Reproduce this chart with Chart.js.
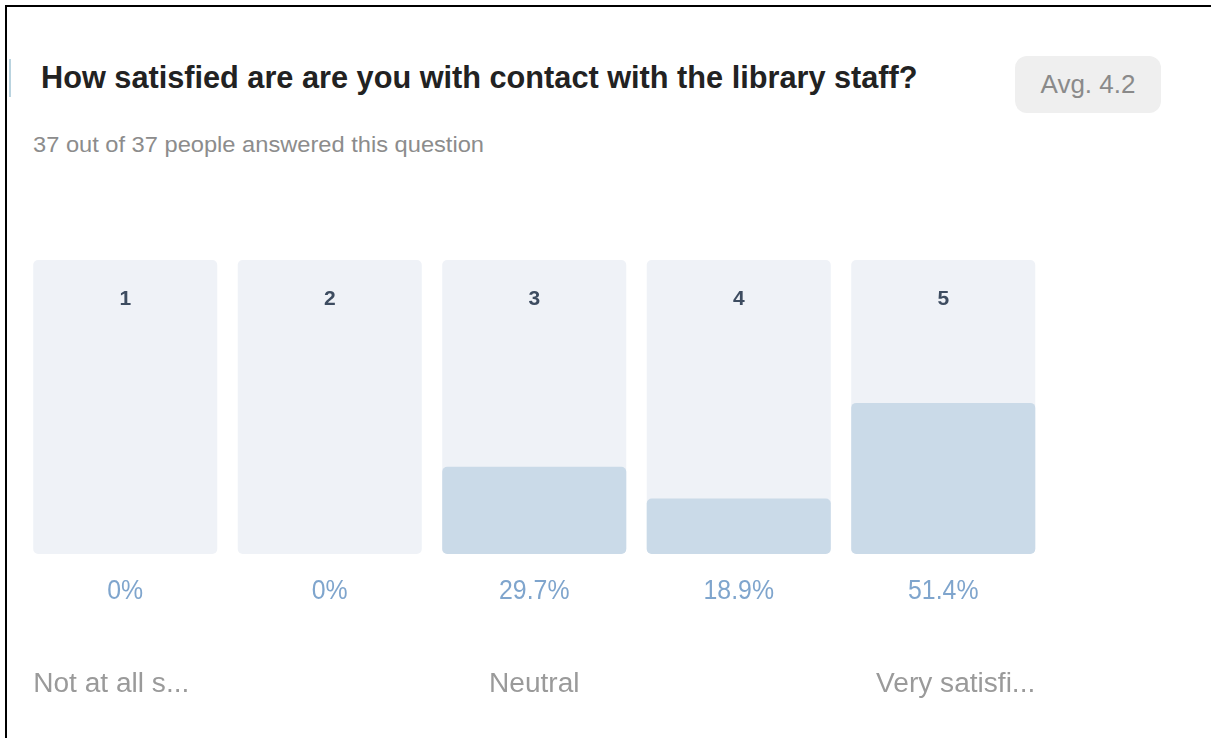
<!DOCTYPE html>
<html>
<head>
<meta charset="utf-8">
<script src="https://cdn.jsdelivr.net/npm/chart.js@4/dist/chart.umd.min.js"></script>
<style>
html,body{margin:0;padding:0;background:#fff;width:1211px;height:738px;overflow:hidden;font-family:"Liberation Sans",Arial,sans-serif;}
#frame{position:absolute;left:5px;top:5px;width:1300px;height:900px;border-left:2px solid #000;border-top:2px solid #000;}
#mark{position:absolute;left:9px;top:59px;width:2px;height:38px;background:#b9d3df;}
#title{position:absolute;left:41px;top:60px;font-weight:bold;font-size:31px;color:#222;white-space:nowrap;transform-origin:left top;transform:scaleX(0.99);}
#sub{position:absolute;left:33px;top:132px;font-size:22px;color:#8c8c8c;white-space:nowrap;transform-origin:left top;transform:scaleX(1.075);}
#badge{position:absolute;left:1015px;top:56px;width:146px;height:57px;background:#efefef;border-radius:12px;color:#8a8a8a;font-size:26px;line-height:57px;text-align:center;}
#c{position:absolute;left:0;top:0;}
</style>
</head>
<body>
<div id="frame"></div>
<div id="mark"></div>
<div id="title">How satisfied are are you with contact with the library staff?</div>
<div id="sub">37 out of 37 people answered this question</div>
<div id="badge">Avg. 4.2</div>
<canvas id="c" width="1211" height="738"></canvas>
<script>
const categories = ['1', '2', '3', '4', '5'];
const percentValues = [0, 0, 29.7, 18.9, 51.4];
const percentLabels = ['0%', '0%', '29.7%', '18.9%', '51.4%'];
const scaleLabels = ['Not at all s...', '', 'Neutral', '', 'Very satisfi...'];
const scaleMax = 100;
const trackValues = categories.map(() => scaleMax);

const textPlugin = {
  id: 'textPlugin',
  afterDatasetsDraw(chart) {
    const ctx = chart.ctx;
    const meta = chart.getDatasetMeta(1);
    const area = chart.chartArea;
    ctx.save();
    meta.data.forEach((bar, i) => {
      const x = bar.x;
      const half = bar.width / 2;
      ctx.fillStyle = '#3d4c60';
      ctx.font = 'bold 21px "Liberation Sans", Arial, sans-serif';
      ctx.textAlign = 'center';
      ctx.textBaseline = 'middle';
      ctx.fillText(categories[i], x, area.top + 39);
      ctx.save();
      ctx.translate(x, area.bottom + 38);
      ctx.scale(0.92, 1);
      ctx.fillStyle = '#7fa5cd';
      ctx.font = '27px "Liberation Sans", Arial, sans-serif';
      ctx.fillText(percentLabels[i], 0, 0);
      ctx.restore();
      if (scaleLabels[i]) {
        ctx.save();
        let ax = x, align = 'center';
        if (i === 0) { ax = x - half; align = 'left'; }
        else if (i === categories.length - 1) { ax = x + half; align = 'right'; }
        ctx.translate(ax, area.bottom + 131);
        ctx.scale(1.04, 1);
        ctx.textAlign = align;
        ctx.fillStyle = '#9a9a9a';
        ctx.font = '27px "Liberation Sans", Arial, sans-serif';
        ctx.fillText(scaleLabels[i], 0, 0);
        ctx.restore();
      }
    });
    ctx.restore();
  }
};

new Chart(document.getElementById('c'), {
  type: 'bar',
  data: {
    labels: categories,
    datasets: [
      {
        label: 'track',
        data: trackValues,
        backgroundColor: '#eff2f7',
        borderRadius: 5,
        borderSkipped: false,
        order: 2,
        grouped: false,
        barPercentage: 0.9,
        categoryPercentage: 1.0
      },
      {
        label: 'share',
        data: percentValues,
        backgroundColor: '#cadae8',
        borderRadius: 5,
        borderSkipped: false,
        order: 1,
        grouped: false,
        barPercentage: 0.9,
        categoryPercentage: 1.0
      }
    ]
  },
  options: {
    responsive: false,
    animation: false,
    layout: { padding: { left: 23, right: 165.5, top: 260, bottom: 184 } },
    plugins: { legend: { display: false }, tooltip: { enabled: false } },
    scales: {
      x: { display: false, offset: true },
      y: { display: false, min: 0, max: scaleMax }
    }
  },
  plugins: [textPlugin]
});
</script>
</body>
</html>
